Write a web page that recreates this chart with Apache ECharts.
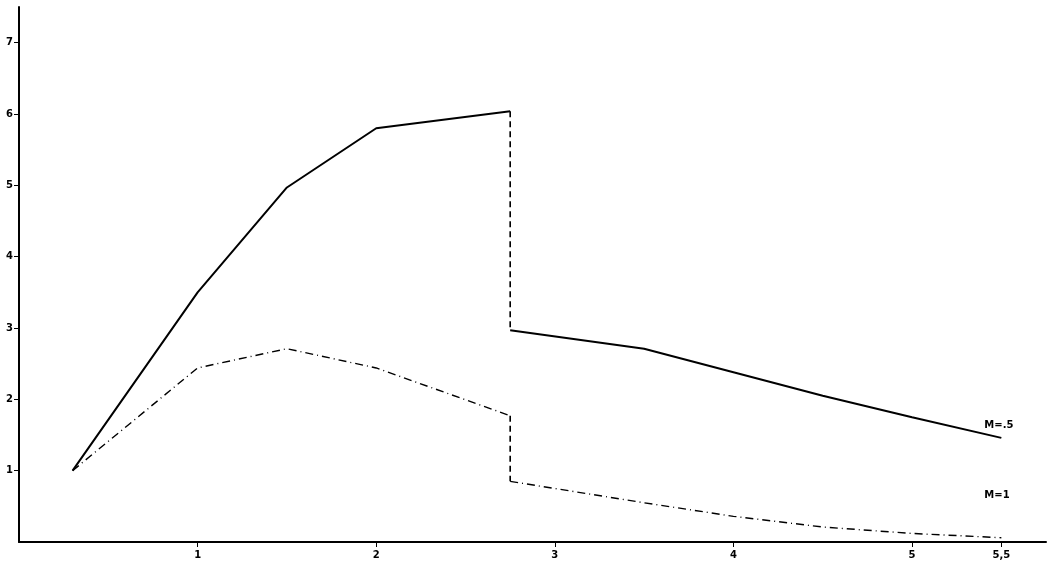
<!DOCTYPE html>
<html>
<head>
<meta charset="utf-8">
<script src="https://cdn.jsdelivr.net/npm/echarts@6/dist/echarts.min.js"></script>
<style>html,body{margin:0;padding:0;background:#fff}#c{width:1050px;height:569px}</style>
</head>
<body>
<div id="c"></div>
<script>
// M = .5 curve
const m05RiseX = [0.3, 1, 1.5, 2, 2.75];
const m05RiseY = [1.0, 3.5, 4.97, 5.8, 6.04];
const m05DropX = [2.75, 2.75];
const m05DropY = [6.04, 2.97];
const m05FallX = [2.75, 3.5, 4, 4.5, 5, 5.5];
const m05FallY = [2.97, 2.71, 2.38, 2.05, 1.75, 1.46];
// M = 1 curve
const m1RiseX = [0.3, 1, 1.5, 2, 2.75];
const m1RiseY = [1.0, 2.44, 2.71, 2.44, 1.77];
const m1DropX = [2.75, 2.75];
const m1DropY = [1.77, 0.85];
const m1FallX = [2.75, 3, 3.5, 4, 4.5, 5, 5.5];
const m1FallY = [0.85, 0.75, 0.55, 0.36, 0.21, 0.12, 0.06];

const xTicks = [1, 2, 3, 4, 5, 5.5];
const xTickLabels = ['1', '2', '3', '4', '5', '5,5'];
const yTicks = [1, 2, 3, 4, 5, 6, 7];
const curveLabels = ['M=.5', 'M=1'];

const pairs = (xs, ys) => xs.map((x, i) => [x, ys[i]]);
const solid = { color: '#000', width: 2, type: 'solid' };
const dashed = { color: '#000', width: 1.6, type: [6, 4] };
const dashDot = { color: '#000', width: 1.4, type: [8, 4, 1, 4] };
const font = { fontFamily: 'DejaVu Sans', fontWeight: 'bold', fontSize: 10, color: '#000' };

function line(name, data, style, endText, offset) {
  const s = { name, type: 'line', data, showSymbol: false, symbol: 'none', lineStyle: style, animation: false, z: 3 };
  if (endText) {
    s.endLabel = Object.assign({ show: true, formatter: endText, distance: 0, offset: offset }, font);
  }
  return s;
}

const chart = echarts.init(document.getElementById('c'), null, { renderer: 'canvas' });
chart.setOption({
  backgroundColor: '#fff',
  animation: false,
  grid: { left: 19, right: 4, top: 7, bottom: 27, containLabel: false },
  xAxis: {
    type: 'value', min: 0, max: 5.75,
    splitLine: { show: false },
    axisLine: { show: true, onZero: false, lineStyle: { color: '#000', width: 2 } },
    axisTick: { show: true, customValues: xTicks, length: 5, lineStyle: { color: '#000', width: 1 } },
    axisLabel: Object.assign({ customValues: xTicks, margin: 8,
      formatter: v => xTickLabels[xTicks.indexOf(v)] }, font)
  },
  yAxis: {
    type: 'value', min: 0, max: 7.5,
    splitLine: { show: false },
    axisLine: { show: true, onZero: false, lineStyle: { color: '#000', width: 2 } },
    axisTick: { show: true, customValues: yTicks, length: 5, lineStyle: { color: '#000', width: 1 } },
    axisLabel: Object.assign({ customValues: yTicks, margin: 6, formatter: v => String(v) }, font)
  },
  series: [
    line('M=.5 a', pairs(m05RiseX, m05RiseY), solid),
    line('M=.5 b', pairs(m05DropX, m05DropY), dashed),
    line('M=.5 c', pairs(m05FallX, m05FallY), solid, curveLabels[0], [-17, -12]),
    line('M=1 a', pairs(m1RiseX, m1RiseY), dashDot),
    line('M=1 b', pairs(m1DropX, m1DropY), dashed),
    line('M=1 c', pairs(m1FallX, m1FallY), dashDot, curveLabels[1], [-17, -42])
  ]
});
</script>
</body>
</html>
